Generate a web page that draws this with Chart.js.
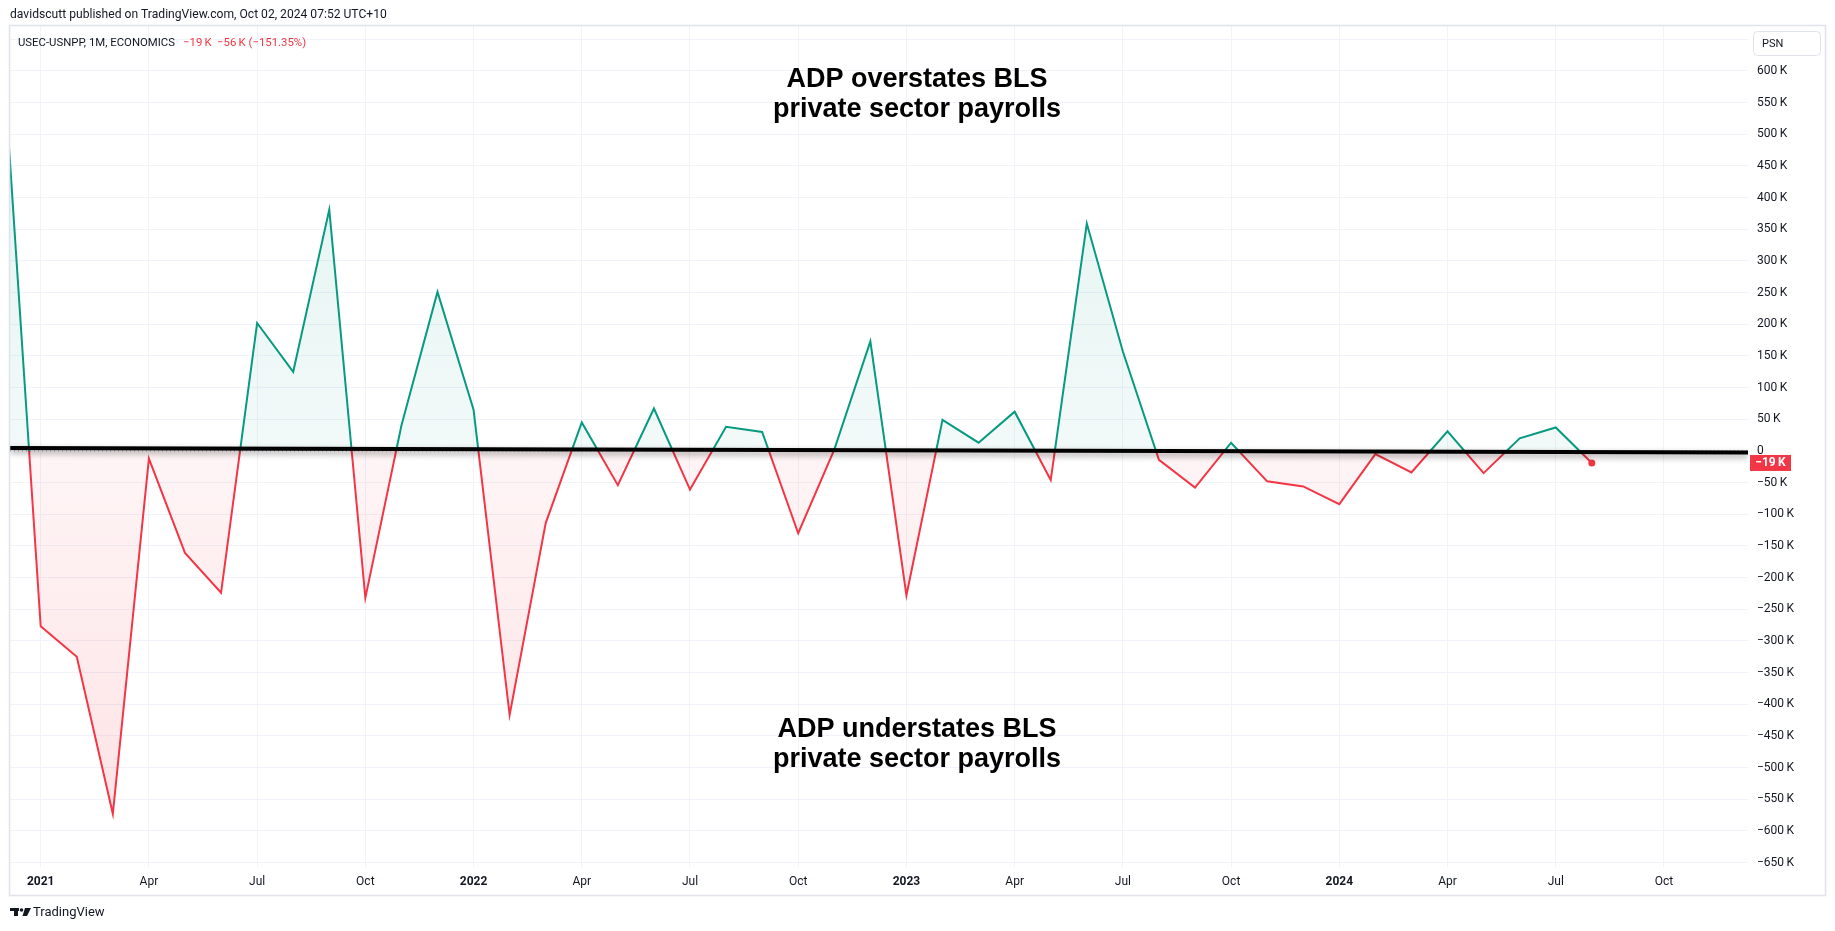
<!DOCTYPE html>
<html><head><meta charset="utf-8">
<script src="https://cdn.jsdelivr.net/npm/chart.js@4.4.1/dist/chart.umd.min.js"></script>
<style>html,body{margin:0;padding:0;background:#fff;overflow:hidden}canvas{display:block}</style>
</head><body>
<canvas id="c" width="1835" height="931"></canvas>
<script>
// ---- data (thousands of jobs, ADP minus BLS private payrolls) ----
const months = ['Dec 2020','Jan 2021','Feb 2021','Mar 2021','Apr 2021','May 2021','Jun 2021','Jul 2021','Aug 2021','Sep 2021','Oct 2021','Nov 2021','Dec 2021',
  'Jan 2022','Feb 2022','Mar 2022','Apr 2022','May 2022','Jun 2022','Jul 2022','Aug 2022','Sep 2022','Oct 2022','Nov 2022','Dec 2022',
  'Jan 2023','Feb 2023','Mar 2023','Apr 2023','May 2023','Jun 2023','Jul 2023','Aug 2023','Sep 2023','Oct 2023','Nov 2023','Dec 2023',
  'Jan 2024','Feb 2024','Mar 2024','Apr 2024','May 2024','Jun 2024','Jul 2024','Aug 2024'];
const spread = [585,-277,-325,-573,-12,-161,-224,202,125,381,-232,40,251,
  65,-417,-114,45,-54,67,-61,38,30,-130,2,173,
  -228,49,13,62,-46,359,157,-14,-58,13,-48,-56,
  -84,-5,-34,31,-35,20,37,-19];
const xTickIndex = [1,4,7,10,13,16,19,22,25,28,31,34,37,40,43,46];
const xTickLabels = ['2021','Apr','Jul','Oct','2022','Apr','Jul','Oct','2023','Apr','Jul','Oct','2024','Apr','Jul','Oct'];
const yTickValues = [-650,-600,-550,-500,-450,-400,-350,-300,-250,-200,-150,-100,-50,0,50,100,150,200,250,300,350,400,450,500,550,600,650];
const trendValues = [4.5,-2.5];   // hand-drawn black line, value at left and right edge
const xRange = [0.149, 48.33];
const yRange = [-657, 671];

const GREEN = '#089981', RED = '#f23645', TXT = '#131722', GRID = '#f0f3fa';
const FONT = 'Roboto, "Liberation Sans", sans-serif';

const pts = spread.map((v,i)=>({x:i,y:v}));
const last = spread.length-1;

function fmtK(v){ if(v===0) return '0'; return (v<0?'\u2212':'')+Math.abs(v)+'\u2009K'; }
function fitSize(c, text, width, weight){
  c.font=(weight||'')+' 12px '+FONT; const w=c.measureText(text).width; return 12*width/w;
}

const tvPlugin = {
  id:'tv',
  beforeDraw(chart){
    const c=chart.ctx; c.save(); c.fillStyle='#fff'; c.fillRect(0,0,chart.width,chart.height); c.restore();
  },
  beforeDatasetDraw(chart,args){
    if(args.index===2){ const c=chart.ctx; c.save(); c.shadowColor='rgba(0,0,0,0.38)'; c.shadowBlur=6; c.shadowOffsetY=3; }
  },
  afterDatasetDraw(chart,args){
    if(args.index===2){ chart.ctx.restore(); }
  },
  afterDraw(chart){
    const c=chart.ctx, a=chart.chartArea, ys=chart.scales.y;
    c.save();
    // annotations
    c.fillStyle='#000'; c.textAlign='center'; c.textBaseline='alphabetic';
    c.font='bold 27px "Liberation Sans", Arial, sans-serif';
    c.fillText('ADP overstates BLS',917,87);
    c.fillText('private sector payrolls',917,117);
    c.fillText('ADP understates BLS',917,737);
    c.fillText('private sector payrolls',917,767);
    // frame
    c.strokeStyle='#e0e3eb'; c.lineWidth=1.5;
    c.strokeRect(9.5,25.5,1816,870);
    // header
    c.textAlign='left'; c.textBaseline='middle';
    c.fillStyle=TXT;
    const h1='davidscutt published on TradingView.com, Oct 02, 2024 07:52 UTC+10';
    const s1=fitSize(c,h1,377); c.font=s1.toFixed(2)+'px '+FONT;
    c.fillText(h1,10,15);
    const h2='USEC-USNPP, 1M, ECONOMICS';
    const s2=fitSize(c,h2,157); c.font=s2.toFixed(2)+'px '+FONT;
    c.fillText(h2,18,43);
    const lv=spread[last], pv=spread[last-1], ch=lv-pv, pct=ch/Math.abs(pv)*100;
    c.fillStyle=RED;
    c.fillText(fmtK(lv),183,43);
    c.fillText(fmtK(ch)+' ('+(pct<0?'\u2212':'')+Math.abs(pct).toFixed(2)+'%)',217,43);
    // PSN button
    c.fillStyle='#fff'; c.strokeStyle='#e0e3eb'; c.lineWidth=1;
    c.beginPath(); c.roundRect(1753.5,31.5,67,24,4); c.fill(); c.stroke();
    c.fillStyle=TXT; c.font='11px '+FONT; c.fillText('PSN',1762,44);
    // last value label
    const yl=ys.getPixelForValue(lv);
    c.fillStyle=RED; c.fillRect(1750,yl-8,41,16);
    c.fillStyle='#fff'; c.font='bold 12px '+FONT; c.textAlign='center';
    c.fillText(fmtK(lv),1770.5,yl+0.5);
    // TradingView logo
    c.fillStyle='#131722';
    c.fillRect(10,908,9,3); c.fillRect(14,908,4,8);
    c.beginPath(); c.arc(21.5,910,1.8,0,Math.PI*2); c.fill();
    c.beginPath(); c.moveTo(25,908); c.lineTo(31,908); c.lineTo(27,916); c.lineTo(22.5,916); c.closePath(); c.fill();
    c.textAlign='left'; c.font='13px '+FONT; c.fillText('TradingView',33,913);
    c.restore();
  }
};

const canvas=document.getElementById('c');
const chart = new Chart(canvas, {
  type:'line',
  data:{datasets:[
    { label:'USEC-USNPP', data:pts, parsing:false, order:2, clip:0,
      borderWidth:2, tension:0,
      borderColor:(ctx)=>{ const ch=ctx.chart, a=ch.chartArea; if(!a) return GREEN;
        const y0=ch.scales.y.getPixelForValue(0); const t=Math.min(1,Math.max(0,(y0-a.top)/(a.bottom-a.top)));
        const g=ch.ctx.createLinearGradient(0,a.top,0,a.bottom);
        g.addColorStop(0,GREEN); g.addColorStop(t,GREEN); g.addColorStop(t,RED); g.addColorStop(1,RED); return g; },
      fill:{target:{value:0}, above:'rgba(8,153,129,0.08)', below:'rgba(242,54,69,0.08)'},
      pointRadius:(ctx)=>ctx.dataIndex===last?3.5:0,
      pointBackgroundColor:RED, pointBorderColor:RED, pointBorderWidth:0, pointHoverRadius:0
    },
    { label:'zero', data:[{x:xRange[0],y:0},{x:xRange[1],y:0}], parsing:false, order:3, clip:0,
      borderColor:'rgba(120,123,134,0.9)', borderWidth:1, borderDash:[1,3], pointRadius:0, fill:false },
    { label:'trend', data:[{x:xRange[0],y:trendValues[0]},{x:xRange[1],y:trendValues[1]}], parsing:false, order:1, clip:0,
      borderColor:'#000', borderWidth:4, pointRadius:0, fill:false }
  ]},
  options:{
    responsive:false, animation:false, devicePixelRatio:1,
    layout:{padding:{left:10,top:26,right:10,bottom:36}},
    plugins:{legend:{display:false}, tooltip:{enabled:false}},
    scales:{
      x:{type:'linear', min:xRange[0], max:xRange[1],
        afterBuildTicks:(s)=>{ s.ticks=xTickIndex.map(v=>({value:v})); },
        afterFit:(s)=>{ s.height=28; },
        grid:{color:GRID, drawTicks:false, lineWidth:1},
        border:{display:false},
        ticks:{autoSkip:false, maxRotation:0, padding:8, color:TXT,
          callback:(v)=>{ const i=xTickIndex.indexOf(v); return i<0?'':xTickLabels[i]; },
          font:(ctx)=>{ const v=ctx.tick?ctx.tick.value:0; const i=xTickIndex.indexOf(v);
            const yr=i>=0 && /^\d{4}$/.test(xTickLabels[i]); return {family:FONT,size:12,weight:yr?'bold':'normal'}; } }
      },
      y:{type:'linear', position:'right', min:yRange[0], max:yRange[1],
        afterBuildTicks:(s)=>{ s.ticks=yTickValues.map(v=>({value:v})); },
        afterFit:(s)=>{ s.width=77; },
        grid:{color:GRID, drawTicks:false, lineWidth:1},
        border:{display:false},
        ticks:{padding:9, color:TXT, font:{family:FONT,size:12}, callback:(v)=>fmtK(v)}
      }
    }
  },
  plugins:[tvPlugin]
});

const a=chart.chartArea, y0=chart.scales.y.getPixelForValue(0);
const gA=chart.ctx.createLinearGradient(0,a.top,0,y0);
gA.addColorStop(0,'rgba(8,153,129,0.13)'); gA.addColorStop(1,'rgba(8,153,129,0.05)');
const gB=chart.ctx.createLinearGradient(0,y0,0,a.bottom);
gB.addColorStop(0,'rgba(242,54,69,0.05)'); gB.addColorStop(1,'rgba(242,54,69,0.15)');
chart.data.datasets[0].fill={target:{value:0}, above:gA, below:gB};
chart.update('none');
</script>
</body></html>
